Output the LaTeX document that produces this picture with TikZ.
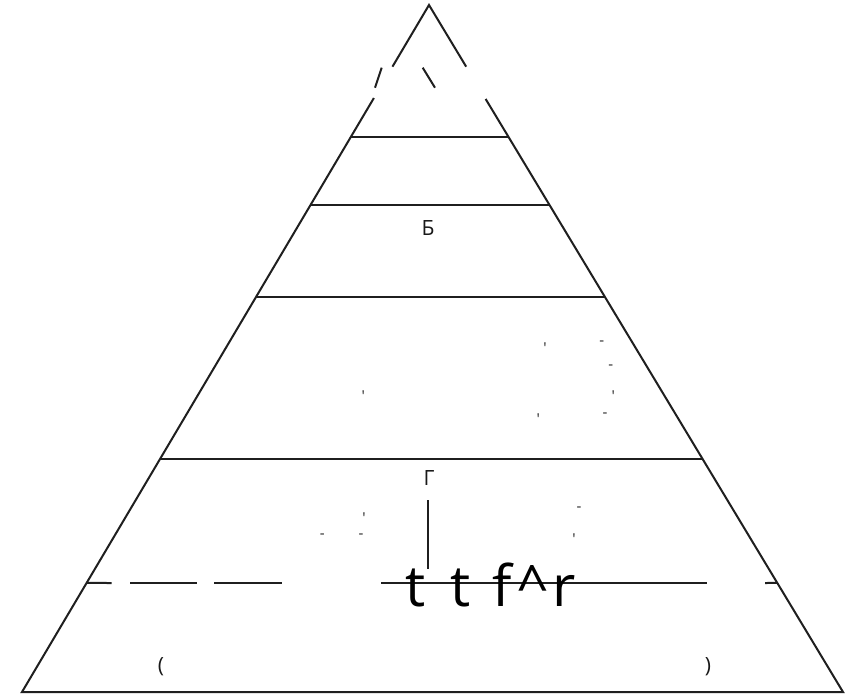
\documentclass[tikz,border=0pt]{standalone}
\usepackage{fontspec}
\setmainfont{Open Sans}
\usetikzlibrary{calc}
\begin{document}
\begin{tikzpicture}[x=1pt,y=-1pt,
  edge/.style={line width=2pt, draw=black!88, line join=miter},
  tickmark/.style={font=\fontsize{15}{15}\selectfont, inner sep=0pt, text=black!85},
  lab/.style={font=\fontsize{21}{21}\selectfont, inner sep=0pt, text=black!90},
  big/.style={font=\fontsize{57}{57}\selectfont, inner sep=0pt, anchor=base west}]
\useasboundingbox (0,0) rectangle (857,696);
\fill[white] (0,0) rectangle (857,696);
\coordinate (A) at (429,5);
\coordinate (BL) at (22,692);
\coordinate (BR) at (843,692);
% sides of the pyramid
\draw[edge] ($(A)!0.0898!(BL)$) -- (A) -- ($(A)!0.0898!(BR)$);
\draw[edge] ($(A)!0.1354!(BL)$) -- (BL) -- (BR) -- ($(A)!0.1368!(BR)$);
% fragments near the top
\coordinate (fa1) at (381.7,67.7);
\coordinate (fa2) at (375,87.7);
\coordinate (fb1) at (422.7,67.7);
\coordinate (fb2) at (435,87.7);
\draw[edge] (fa1) -- (fa2);
\draw[edge] (fb1) -- (fb2);
% horizontal levels
\foreach \t in {0.1921,0.2904,0.4250,0.6608}
  \draw[edge] ($(A)!\t!(BL)$) -- ($(A)!\t!(BR)$);
% dashed level
\coordinate (d0) at ($(A)!0.8413!(BL)$);
\coordinate (d1) at (111.7,583);
\coordinate (d2) at (130,583);
\coordinate (d3) at (196.7,583);
\coordinate (d4) at (214,583);
\coordinate (d5) at (281.7,583);
\coordinate (d6) at (381,583);
\coordinate (d7) at (707,583);
\coordinate (d8) at (765,583);
\coordinate (d9) at ($(A)!0.8413!(BR)$);
\draw[edge] (d0) -- (d1);
\draw[edge] (d2) -- (d3);
\draw[edge] (d4) -- (d5);
\draw[edge] (d6) -- (d7);
\draw[edge] (d8) -- (d9);
% vertical line
\coordinate (v1) at (428,500);
\coordinate (v2) at (428,569);
\draw[edge] (v1) -- (v2);
% labels
\node[lab] (b) at (428,228) {Б};
\node[lab] (g) at (429,478) {Г};
\node[lab] (pl) at (161,667) {(};
\node[lab] (pr) at (708,667) {)};
\node[big] (t) at (405,606) {\makebox[45pt][l]{t}\makebox[42pt][l]{t}\makebox[25pt][l]{f}\makebox[35pt][l]{\textasciicircum}r};
% small marks
\node[tickmark] (m1) at (545,348) {\textquotesingle};
\node[tickmark] (m2) at (601.7,343.3) {-};
\node[tickmark] (m3) at (610.7,367.7) {-};
\node[tickmark] (m4) at (363.3,396) {\textquotesingle};
\node[tickmark] (m5) at (613.3,396) {\textquotesingle};
\node[tickmark] (m6) at (538.3,419.3) {\textquotesingle};
\node[tickmark] (m7) at (605,415) {-};
\node[tickmark] (m8) at (364,517.7) {\textquotesingle};
\node[tickmark] (m9) at (322.3,536) {-};
\node[tickmark] (m10) at (361,536) {-};
\node[tickmark] (m11) at (579,509) {-};
\node[tickmark] (m12) at (574,539) {\textquotesingle};
\end{tikzpicture}
\end{document}
